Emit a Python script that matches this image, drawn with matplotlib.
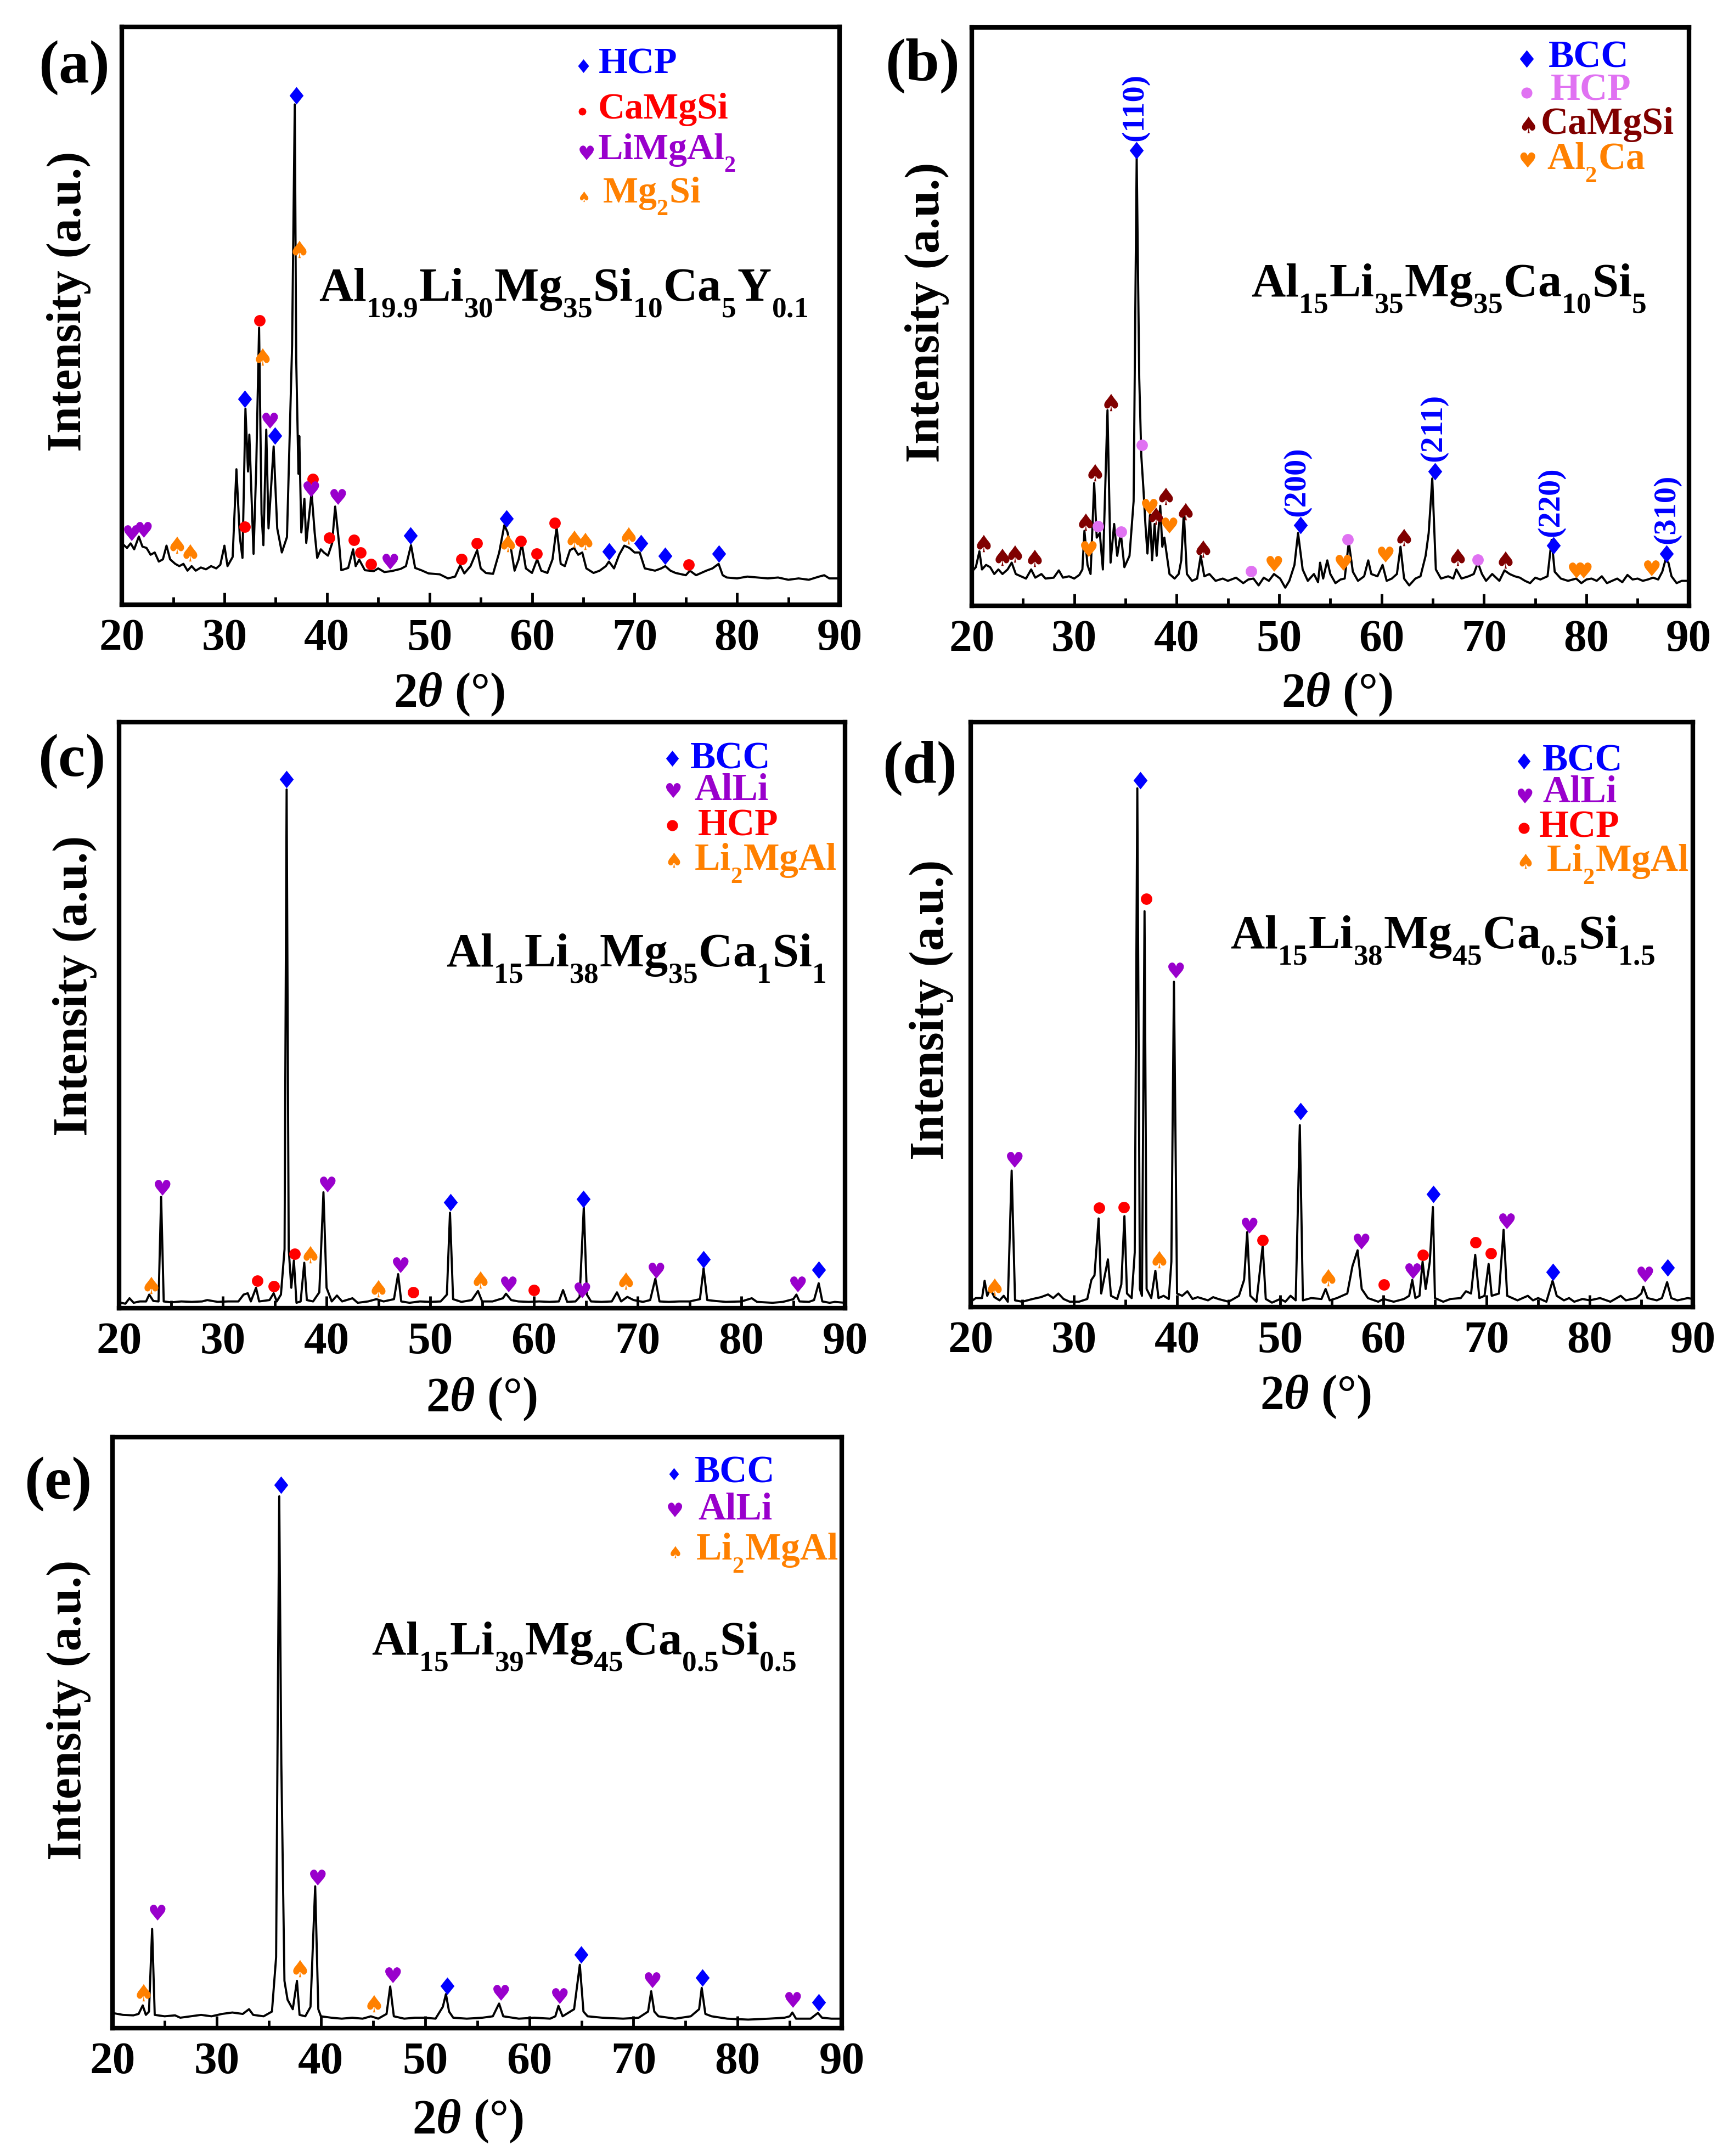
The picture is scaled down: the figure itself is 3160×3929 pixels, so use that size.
import numpy as np
import matplotlib
matplotlib.use("Agg")
import matplotlib.pyplot as plt
import matplotlib._mathtext as mathtext_internals
from matplotlib.path import Path
from matplotlib.textpath import TextPath
from matplotlib.font_manager import FontProperties

# ---------------- data: 2theta (deg), intensity (a.u.) ----------------
# (a) Al19.9Li30Mg35Si10Ca5Y0.1
A_TT = [20.0, 20.5, 20.85, 21.2, 21.65, 22.0, 22.4, 22.8, 23.2, 23.6,
        24.0, 24.35, 24.7, 25.2, 25.6, 26.0, 26.4, 26.8, 27.2, 27.7,
        28.2, 28.7, 29.2, 29.6, 30.0, 30.3, 30.8, 31.17, 31.5, 31.76,
        32.05, 32.3, 32.43, 32.84, 33.1, 33.38, 33.62, 33.8, 34.08, 34.3,
        34.8, 35.15, 35.6, 36.1, 36.6, 36.86, 37.0, 37.15, 37.22, 37.3,
        37.5, 37.8, 37.98, 38.5, 38.8, 39.05, 39.4, 39.7, 40.1, 40.5,
        40.8, 41.2, 41.4, 42.07, 42.55, 42.8, 43.15, 43.7, 44.56, 45.0,
        45.6, 46.3, 47.2, 47.7, 48.2, 48.6, 49.2, 49.9, 51.0, 51.8,
        52.5, 53.0, 53.4, 54.0, 54.65, 55.0, 55.5, 56.2, 56.8, 57.3,
        57.6, 57.9, 58.3, 58.7, 59.0, 59.4, 60.0, 60.5, 60.9, 61.5,
        62.0, 62.4, 62.8, 63.2, 63.7, 64.1, 64.5, 64.9, 65.3, 66.0,
        66.6, 67.2, 67.5, 68.0, 68.5, 69.0, 69.5, 70.0, 70.5, 71.0,
        72.0, 72.6, 73.0, 73.5, 74.0, 75.0, 75.4, 76.0, 77.0, 77.6,
        78.2, 78.6, 79.0, 80.0, 81.0, 82.0, 83.0, 84.0, 85.0, 86.0,
        87.0, 88.0, 88.5, 89.0, 90.0]
A_I = [135, 125, 135, 122, 150, 128, 125, 110, 115, 95,
       100, 130, 100, 90, 85, 90, 75, 85, 75, 82,
       78, 85, 80, 88, 130, 85, 105, 298, 149, 103,
       431, 293, 374, 112, 300, 609, 200, 131, 385, 168,
       348, 168, 115, 149, 570, 1100, 542, 371, 288, 371,
       159, 233, 136, 247, 159, 103, 122, 115, 108, 135,
       216, 131, 76, 81, 122, 85, 99, 76, 74, 80,
       72, 74, 79, 85, 131, 81, 76, 69, 67, 58,
       62, 87, 69, 85, 120, 80, 70, 68, 115, 175,
       160, 130, 75, 100, 135, 80, 70, 100, 75, 70,
       100, 170, 90, 85, 120, 125, 110, 115, 80, 70,
       75, 85, 95, 80, 110, 130, 125, 115, 115, 80,
       75, 80, 85, 75, 70, 65, 75, 65, 75, 80,
       90, 65, 60, 58, 62, 60, 58, 60, 55, 58,
       55, 62, 65, 58, 58]
A_HCP_TT = [32.0, 34.95, 37.0, 48.15, 57.5, 67.5, 70.6, 73.0, 78.2]
A_HCP_I = [452, 372, 1120, 152, 190, 117, 135, 108, 112]
A_CMS_TT = [32.0, 33.43, 38.6, 40.2, 42.65, 43.25, 44.3, 53.1, 54.6, 58.9, 60.45, 62.2, 75.3]
A_CMS_I = [172, 625, 277, 147, 143, 115, 90, 100, 135, 140, 112, 180, 88]
A_LMA_TT = [20.85, 22.05, 34.35, 38.35, 40.95, 46.05]
A_LMA_I = [158, 165, 405, 255, 238, 95]
A_MS_TT = [25.2, 26.45, 33.54, 37.1, 57.45, 63.95, 65.0, 69.25]
A_MS_I = [132, 115, 545, 782, 135, 145, 140, 152]

# (b) Al15Li35Mg35Ca10Si5
B_TT = [20.0, 20.4, 20.75, 21.0, 21.4, 21.8, 22.2, 22.6, 23.0, 23.5,
        23.9, 24.3, 24.8, 25.3, 25.8, 26.2, 26.8, 27.2, 28.0, 28.5,
        28.9, 29.5, 30.0, 30.5, 30.8, 31.0, 31.3, 31.6, 31.95, 32.2,
        32.5, 32.8, 33.25, 33.55, 33.9, 34.2, 34.55, 34.9, 35.4, 35.8,
        36.1, 36.35, 36.55, 36.75, 36.95, 37.15, 37.4, 37.6, 37.85, 38.05,
        38.4, 38.6, 38.8, 39.05, 39.3, 39.8, 40.2, 40.45, 40.7, 41.0,
        41.5, 42.0, 42.35, 42.7, 43.2, 43.8, 44.5, 45.0, 45.8, 46.5,
        47.0, 47.5, 48.0, 48.5, 49.0, 49.5, 50.1, 50.6, 51.0, 51.5,
        51.85, 52.3, 52.8, 53.4, 53.8, 54.0, 54.3, 54.7, 55.0, 55.5,
        56.0, 56.4, 56.8, 57.2, 57.7, 58.3, 58.7, 59.0, 59.6, 60.1,
        60.5, 61.0, 61.5, 61.85, 62.2, 62.7, 63.3, 63.8, 64.3, 64.6,
        64.95, 65.3, 65.8, 66.5, 67.0, 67.3, 67.8, 68.5, 69.0, 69.4,
        69.8, 70.2, 70.8, 71.5, 72.0, 72.5, 73.0, 73.5, 74.0, 74.5,
        75.0, 75.5, 76.2, 76.6, 76.9, 77.5, 78.2, 79.0, 79.5, 80.0,
        80.5, 81.0, 81.5, 82.0, 82.5, 83.0, 83.5, 84.0, 84.5, 85.0,
        85.5, 86.0, 86.5, 87.0, 87.4, 87.7, 88.0, 88.3, 88.8, 89.3,
        90.0]
B_I = [75, 85, 120, 80, 90, 85, 70, 80, 70, 80,
       95, 70, 65, 60, 80, 62, 70, 60, 62, 78,
       62, 65, 60, 68, 80, 165, 90, 70, 270, 150,
       160, 80, 430, 95, 180, 110, 160, 85, 110, 230,
       985, 500, 330, 260, 180, 115, 200, 100, 180, 110,
       220, 130, 150, 110, 70, 60, 70, 100, 205, 70,
       55, 60, 110, 65, 70, 55, 60, 55, 62, 50,
       58, 60, 45, 62, 55, 70, 60, 40, 55, 90,
       160, 80, 55, 70, 52, 95, 60, 100, 70, 50,
       58, 60, 140, 75, 55, 65, 100, 70, 65, 90,
       55, 60, 70, 130, 60, 45, 60, 65, 110, 160,
       280, 80, 60, 65, 60, 80, 60, 65, 70, 95,
       70, 55, 70, 55, 78, 70, 65, 62, 55, 50,
       62, 58, 65, 145, 75, 60, 55, 60, 50, 58,
       60, 55, 65, 50, 55, 60, 52, 68, 58, 60,
       55, 58, 62, 58, 75, 100, 95, 65, 50, 55,
       55]
B_BCC_TT = [36.08, 52.11, 65.22, 76.77, 87.83]
B_BCC_I = [1001, 178, 295, 133, 115]
B_HKL = ["(110)", "(200)", "(211)", "(220)", "(310)"]
B_HKL_TT = [35.95, 51.75, 65.05, 76.55, 87.85]
B_HKL_I = [1023, 198, 318, 153, 138]
B_HCP_TT = [32.30, 34.57, 36.62, 47.25, 56.70, 69.38]
B_HCP_I = [175, 163, 353, 76, 146, 101]
B_CMS_TT = [20.97, 22.81, 24.05, 25.94, 30.96, 31.87, 33.38, 37.81, 38.73, 40.67, 42.40, 61.99, 67.22, 71.92]
B_CMS_I = [138, 108, 115, 105, 185, 293, 448, 198, 241, 208, 125, 151, 108, 101]
B_AC_TT = [31.33, 37.27, 39.16, 49.41, 56.16, 60.31, 78.93, 79.63, 86.27]
B_AC_I = [125, 218, 178, 93, 95, 113, 78, 78, 83]

# (c) Al15Li38Mg35Ca1Si1
C_TT = [20.0, 20.6, 21.0, 21.4, 22.0, 22.6, 22.9, 23.3, 23.8, 24.05,
        24.3, 25.0, 26.0, 27.0, 28.0, 28.5, 29.5, 30.5, 31.5, 32.0,
        32.4, 32.7, 33.2, 33.5, 34.5, 34.9, 35.2, 35.6, 35.95, 36.15,
        36.35, 36.6, 36.85, 37.1, 37.5, 37.85, 38.1, 38.7, 39.3, 39.7,
        40.0, 40.5, 41.0, 41.5, 42.5, 43.0, 44.0, 44.8, 45.5, 46.5,
        46.9, 47.2, 48.0, 49.0, 50.0, 51.0, 51.6, 51.9, 52.2, 53.0,
        54.0, 54.6, 55.0, 56.0, 57.0, 57.3, 57.8, 58.5, 59.5, 60.5,
        61.5, 62.4, 62.8, 63.2, 64.0, 64.4, 64.8, 65.1, 65.5, 66.5,
        67.5, 68.0, 68.4, 69.0, 69.6, 70.5, 71.2, 71.7, 72.1, 73.0,
        74.0, 75.0, 76.0, 76.35, 76.7, 77.5, 78.5, 80.0, 81.0, 81.5,
        83.0, 84.0, 85.0, 85.3, 85.6, 86.5, 87.0, 87.45, 87.8, 88.5,
        89.0, 90.0]
C_I = [13, 10, 22, 12, 15, 15, 30, 16, 15, 245,
       15, 13, 15, 14, 15, 18, 14, 15, 15, 30,
       33, 15, 45, 15, 18, 33, 15, 30, 130, 1140,
       130, 45, 105, 12, 15, 100, 18, 15, 35, 255,
       45, 15, 28, 15, 22, 12, 15, 20, 15, 20,
       75, 15, 12, 15, 14, 15, 30, 210, 20, 14,
       18, 38, 15, 15, 22, 32, 18, 15, 14, 15,
       14, 15, 40, 14, 15, 25, 222, 30, 15, 14,
       15, 35, 15, 25, 18, 14, 18, 65, 15, 14,
       15, 15, 20, 88, 18, 16, 14, 15, 22, 14,
       12, 14, 20, 30, 15, 14, 18, 55, 15, 12,
       14, 12]
C_BCC_TT = [36.15, 51.93, 64.78, 76.35, 87.44]
C_BCC_I = [1163, 233, 240, 108, 85]
C_ALLI_TT = [24.05, 39.99, 47.03, 57.43, 64.52, 71.71, 85.31]
C_ALLI_I = [265, 273, 96, 53, 40, 83, 53]
C_HCP_TT = [33.33, 34.93, 36.95, 48.36, 59.98]
C_HCP_I = [60, 48, 120, 35, 40]
C_LMA_TT = [22.93, 38.23, 44.79, 54.65, 68.67]
C_LMA_I = [51, 118, 43, 63, 60]

# (d) Al15Li38Mg45Ca0.5Si1.5
D_TT = [20.0, 20.5, 21.1, 21.35, 21.6, 21.9, 22.3, 22.8, 23.2, 23.6,
        23.97, 24.3, 25.0, 26.0, 26.8, 27.5, 28.0, 28.5, 29.0, 29.6,
        30.5, 31.3, 31.7, 32.0, 32.4, 32.65, 33.0, 33.3, 33.6, 34.2,
        34.6, 34.9, 35.15, 35.6, 35.9, 36.15, 36.4, 36.6, 36.85, 37.05,
        37.5, 37.9, 38.2, 38.7, 39.2, 39.45, 39.7, 40.0, 40.5, 41.0,
        41.5, 42.0, 43.0, 43.5, 44.0, 45.0, 46.0, 46.5, 46.8, 47.1,
        47.7, 48.3, 48.6, 49.2, 50.0, 50.5, 51.0, 51.5, 51.9, 52.2,
        53.0, 54.0, 54.4, 54.8, 55.5, 56.5, 57.0, 57.5, 57.9, 58.5,
        59.5, 60.0, 61.0, 62.0, 62.5, 62.8, 63.1, 63.5, 63.8, 64.1,
        64.5, 64.8, 65.0, 65.8, 66.5, 67.5, 68.0, 68.5, 68.9, 69.3,
        69.8, 70.2, 70.5, 71.2, 71.65, 72.0, 73.0, 74.0, 74.5, 75.0,
        75.8, 76.4, 76.8, 77.5, 78.0, 78.5, 79.3, 80.0, 81.0, 82.0,
        83.0, 83.5, 84.5, 85.0, 85.2, 85.6, 86.5, 87.0, 87.5, 87.9,
        88.5, 89.5, 90.0]
D_I = [12, 20, 20, 58, 25, 40, 22, 15, 25, 12,
       300, 15, 12, 18, 22, 28, 20, 30, 18, 12,
       12, 18, 60, 70, 195, 30, 70, 105, 25, 18,
       50, 200, 30, 20, 120, 1140, 40, 25, 870, 40,
       20, 80, 20, 25, 18, 100, 715, 30, 25, 35,
       18, 22, 15, 22, 18, 12, 25, 60, 165, 25,
       12, 135, 18, 10, 18, 12, 25, 15, 400, 15,
       20, 18, 40, 15, 20, 30, 90, 125, 40, 20,
       12, 18, 12, 18, 25, 60, 20, 25, 100, 40,
       100, 220, 20, 12, 18, 20, 35, 30, 115, 20,
       25, 95, 25, 30, 170, 25, 15, 25, 15, 20,
       12, 58, 25, 15, 20, 12, 18, 15, 20, 12,
       25, 15, 20, 30, 45, 20, 15, 20, 55, 20,
       15, 20, 18]
D_BCC_TT = [36.41, 51.97, 64.84, 76.43, 87.53]
D_BCC_I = [1158, 430, 248, 77, 87]
D_ALLI_TT = [24.13, 39.79, 46.93, 57.76, 62.75, 71.87, 85.28]
D_ALLI_I = [325, 740, 180, 145, 80, 190, 72]
D_HCP_TT = [32.44, 34.86, 37.0, 48.27, 60.07, 63.82, 68.92, 70.42]
D_HCP_I = [218, 220, 897, 147, 50, 115, 143, 118]
D_LMA_TT = [22.15, 38.08, 54.44]
D_LMA_I = [45, 105, 65]

# (e) Al15Li39Mg45Ca0.5Si0.5
E_TT = [20.0, 21.0, 22.0, 22.5, 22.9, 23.2, 23.5, 23.8, 24.05, 25.0,
        26.0, 26.5, 27.5, 28.5, 29.5, 30.5, 31.5, 32.5, 33.1, 33.5,
        34.5, 35.3, 35.7, 36.0, 36.2, 36.5, 36.8, 37.3, 37.7, 37.95,
        38.5, 39.0, 39.45, 39.75, 40.0, 41.0, 42.0, 43.0, 44.0, 44.8,
        45.5, 46.3, 46.65, 47.0, 48.0, 49.0, 50.0, 51.0, 51.7, 52.0,
        52.3, 52.7, 54.0, 55.5, 56.5, 57.1, 57.5, 59.0, 60.5, 62.0,
        62.5, 62.8, 63.2, 64.3, 64.85, 65.2, 65.6, 67.0, 69.0, 70.5,
        71.4, 71.7, 72.0, 72.4, 74.0, 75.5, 76.3, 76.55, 76.9, 77.5,
        79.0, 81.0, 83.0, 84.5, 85.0, 85.25, 85.6, 87.0, 87.7, 88.1,
        89.0, 90.0]
E_I = [32, 28, 27, 30, 48, 28, 35, 210, 28, 25,
       27, 22, 25, 28, 25, 30, 33, 30, 40, 28,
       25, 35, 150, 1125, 560, 100, 60, 40, 100, 28,
       25, 45, 300, 40, 25, 22, 20, 22, 20, 25,
       20, 30, 88, 25, 20, 22, 22, 20, 45, 72,
       35, 22, 20, 22, 25, 52, 25, 20, 22, 20,
       25, 47, 25, 40, 134, 35, 25, 22, 20, 22,
       35, 78, 35, 25, 20, 25, 40, 85, 30, 25,
       20, 18, 20, 22, 25, 33, 20, 20, 32, 22,
       20, 20]
E_BCC_TT = [36.19, 52.11, 64.95, 76.63, 87.77]
E_BCC_I = [1149, 89, 155, 107, 55]
E_ALLI_TT = [24.19, 39.58, 46.8, 57.2, 62.83, 71.74, 85.22]
E_ALLI_I = [245, 319, 112, 75, 69, 102, 60]
E_LMA_TT = [22.81, 37.78, 44.89]
E_LMA_I = [75, 127, 52]

FORMULAS = ["Al$_{19.9}$Li$_{30}$Mg$_{35}$Si$_{10}$Ca$_{5}$Y$_{0.1}$",
            "Al$_{15}$Li$_{35}$Mg$_{35}$Ca$_{10}$Si$_{5}$",
            "Al$_{15}$Li$_{38}$Mg$_{35}$Ca$_{1}$Si$_{1}$",
            "Al$_{15}$Li$_{38}$Mg$_{45}$Ca$_{0.5}$Si$_{1.5}$",
            "Al$_{15}$Li$_{39}$Mg$_{45}$Ca$_{0.5}$Si$_{0.5}$"]

# ---------------- style ----------------
plt.rcParams["font.family"] = ["Liberation Serif", "DejaVu Sans"]
plt.rcParams["font.weight"] = "bold"
plt.rcParams["mathtext.fontset"] = "custom"
plt.rcParams["mathtext.rm"] = "Liberation Serif:bold"
plt.rcParams["mathtext.bf"] = "Liberation Serif:bold"
plt.rcParams["mathtext.it"] = "Liberation Serif:italic:bold"
plt.rcParams["mathtext.default"] = "bf"
# subscripts in the original are smaller and sit lower than mathtext's defaults
mathtext_internals.SHRINK_FACTOR = 0.62
mathtext_internals.FontConstantsBase.sub1 = 0.75

BLUE, RED, PURPLE, ORANGE = "#0000FF", "#FF0000", "#9900CC", "#FF8000"
VIOLET, DARKRED = "#E072F2", "#800000"


def glyph(ch):
    tp = TextPath((0, 0), ch, size=10, prop=FontProperties(family="DejaVu Sans"))
    v = tp.vertices - (tp.vertices.min(0) + tp.vertices.max(0)) / 2
    return Path(v, tp.codes)


DIAMOND = Path([(0, .5), (.4, 0), (0, -.5), (-.4, 0), (0, .5)],
               [Path.MOVETO, Path.LINETO, Path.LINETO, Path.LINETO, Path.CLOSEPOLY])
MARK = {"dia": DIAMOND, "dot": "o", "heart": glyph("\u2665"), "spade": glyph("\u2660")}
PEAK_MS = {"dia": 23, "dot": 15, "heart": 23, "spade": 23}

W, H = 3160, 3930
panels = [
    dict(rect=[0.0703, 0.7193, 0.4139, 0.2679], tt=A_TT, i=A_I, ymax=1270, tag="(a)", tagxy=(135, 124),
         marks=[("dia", BLUE, A_HCP_TT, A_HCP_I), ("dot", RED, A_CMS_TT, A_CMS_I),
                ("heart", PURPLE, A_LMA_TT, A_LMA_I), ("spade", ORANGE, A_MS_TT, A_MS_I)],
         legend=[("dia", BLUE, "HCP", 18, (0.643, 0.933), (0.664, 0.921)),
                 ("dot", RED, "CaMgSi", 10, (0.641, 0.854), (0.663, 0.843)),
                 ("heart", PURPLE, "LiMgAl$_2$", 21, (0.646, 0.783), (0.663, 0.772)),
                 ("spade", ORANGE, "Mg$_2$Si", 14, (0.642, 0.707), (0.670, 0.697))],
         lfs=49, fpos=(0.615, 0.528), ylab=(-0.074, 0.526), xlab=(0.456, -0.154)),
    dict(rect=[0.5604, 0.7188, 0.4136, 0.2682], tt=B_TT, i=B_I, ymax=1271, tag="(b)", tagxy=(1681, 120),
         marks=[("dia", BLUE, B_BCC_TT, B_BCC_I), ("dot", VIOLET, B_HCP_TT, B_HCP_I),
                ("spade", DARKRED, B_CMS_TT, B_CMS_I), ("heart", ORANGE, B_AC_TT, B_AC_I)],
         legend=[("dia", BLUE, "BCC", 23, (0.774, 0.946), (0.804, 0.932)),
                 ("dot", VIOLET, "HCP", 14.5, (0.774, 0.887), (0.807, 0.875)),
                 ("spade", DARKRED, "CaMgSi", 22, (0.774, 0.832), (0.793, 0.817)),
                 ("heart", ORANGE, "Al$_2$Ca", 22, (0.774, 0.771), (0.802, 0.756))],
         lfs=50, fpos=(0.665, 0.537), ylab=(-0.062, 0.508), xlab=(0.509, -0.152)),
    dict(rect=[0.0687, 0.3931, 0.4187, 0.2718], tt=C_TT, i=C_I, ymax=1288, tag="(c)", tagxy=(131, 1388),
         marks=[("dia", BLUE, C_BCC_TT, C_BCC_I), ("heart", PURPLE, C_ALLI_TT, C_ALLI_I),
                ("dot", RED, C_HCP_TT, C_HCP_I), ("spade", ORANGE, C_LMA_TT, C_LMA_I)],
         legend=[("dia", BLUE, "BCC", 21, (0.762, 0.938), (0.787, 0.922)),
                 ("heart", PURPLE, "AlLi", 21.5, (0.762, 0.884), (0.792, 0.868)),
                 ("dot", RED, "HCP", 14.5, (0.762, 0.824), (0.797, 0.808)),
                 ("spade", ORANGE, "Li$_2$MgAl", 20, (0.762, 0.765), (0.792, 0.749))],
         lfs=50, fpos=(0.712, 0.585), ylab=(-0.061, 0.551), xlab=(0.499, -0.154)),
    dict(rect=[0.5598, 0.3936, 0.4165, 0.2712], tt=D_TT, i=D_I, ymax=1285, tag="(d)", tagxy=(1676, 1400),
         marks=[("dia", BLUE, D_BCC_TT, D_BCC_I), ("heart", PURPLE, D_ALLI_TT, D_ALLI_I),
                ("dot", RED, D_HCP_TT, D_HCP_I), ("spade", ORANGE, D_LMA_TT, D_LMA_I)],
         legend=[("dia", BLUE, "BCC", 21, (0.766, 0.934), (0.792, 0.918)),
                 ("heart", PURPLE, "AlLi", 21.5, (0.766, 0.875), (0.792, 0.864)),
                 ("dot", RED, "HCP", 14.5, (0.766, 0.819), (0.787, 0.805)),
                 ("spade", ORANGE, "Li$_2$MgAl", 20, (0.766, 0.763), (0.797, 0.747))],
         lfs=50, fpos=(0.653, 0.615), ylab=(-0.054, 0.509), xlab=(0.477, -0.152)),
    dict(rect=[0.0649, 0.0593, 0.4206, 0.2740], tt=E_TT, i=E_I, ymax=1250, tag="(e)", tagxy=(106, 2705),
         marks=[("dia", BLUE, E_BCC_TT, E_BCC_I), ("heart", PURPLE, E_ALLI_TT, E_ALLI_I),
                ("spade", ORANGE, E_LMA_TT, E_LMA_I)],
         legend=[("dia", BLUE, "BCC", 16, (0.770, 0.938), (0.798, 0.924)),
                 ("heart", PURPLE, "AlLi", 21, (0.770, 0.878), (0.803, 0.862)),
                 ("spade", ORANGE, "Li$_2$MgAl", 16, (0.770, 0.806), (0.800, 0.794))],
         lfs=50, fpos=(0.646, 0.634), ylab=(-0.060, 0.539), xlab=(0.487, -0.157)),
]

fig = plt.figure(figsize=(W / 100, H / 100), dpi=100)
for n, p in enumerate(panels):
    ax = fig.add_axes(p["rect"])
    ax.plot(p["tt"], p["i"], color="black", lw=2.8, zorder=2)
    for sym, col, xs, ys in p["marks"]:
        ax.plot(xs, ys, ls="none", marker=MARK[sym], ms=PEAK_MS[sym], mfc=col, mec=col, mew=0,
                clip_on=False, zorder=3)
    for sym, col, lab, ms, mxy, txy in p["legend"]:
        ax.plot([mxy[0]], [mxy[1]], transform=ax.transAxes, ls="none", marker=MARK[sym], ms=ms,
                mfc=col, mec=col, mew=0, clip_on=False)
        ax.text(txy[0], txy[1], lab, transform=ax.transAxes, color=col, fontsize=p["lfs"],
                ha="left", va="baseline")
    if n == 1:
        for lab, x, y in zip(B_HKL, B_HKL_TT, B_HKL_I):
            ax.text(x, y, lab, rotation=90, ha="center", va="bottom", color=BLUE, fontsize=42)
    ax.text(p["fpos"][0], p["fpos"][1], FORMULAS[n], transform=ax.transAxes, fontsize=62,
            ha="center", va="baseline")
    ax.text(p["ylab"][0], p["ylab"][1], "Intensity (a.u.)", transform=ax.transAxes, rotation=90,
            ha="center", va="center", fontsize=63)
    ax.text(p["xlab"][0], p["xlab"][1], "2$\\mathit{\\theta}$ (°)", transform=ax.transAxes,
            ha="center", va="center", fontsize=63)
    ax.set_xlim(20, 90)
    ax.set_ylim(0, p["ymax"])
    ax.set_xticks(range(20, 91, 10))
    ax.set_xticks(range(25, 90, 10), minor=True)
    ax.set_yticks([])
    ax.tick_params(axis="x", which="both", direction="in", top=False, width=3.5, labelsize=60, pad=17)
    ax.tick_params(axis="x", which="major", length=16)
    ax.tick_params(axis="x", which="minor", length=10)
    for s in ax.spines.values():
        s.set_linewidth(6)
    fig.text(p["tagxy"][0] / W, 1 - p["tagxy"][1] / H, p["tag"], fontsize=80, ha="center", va="center")

fig.savefig("out.png", dpi=100)
